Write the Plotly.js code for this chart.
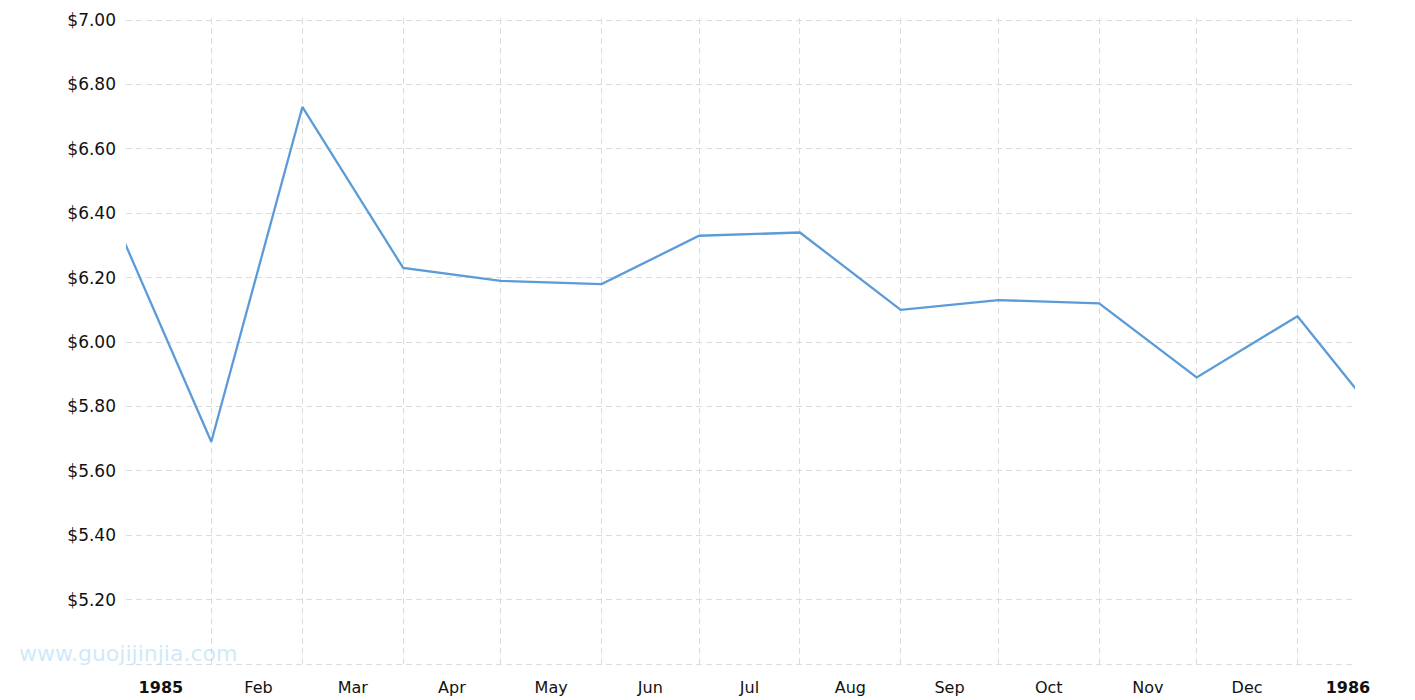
<!DOCTYPE html>
<html>
<head>
<meta charset="utf-8">
<script src="https://cdn.plot.ly/plotly-3.0.1.min.js"></script>
<style>
  html, body { margin: 0; padding: 0; background: #fff; }
  #chart { width: 1415px; height: 700px; }
</style>
</head>
<body>
<div id="chart"></div>
<script>
// Monthly price data
const dates = ['1985-01-01','1985-02-01','1985-03-01','1985-04-01','1985-05-01','1985-06-01',
               '1985-07-01','1985-08-01','1985-09-01','1985-10-01','1985-11-01','1985-12-01',
               '1986-01-01','1986-02-01'];
const prices = [6.41, 5.69, 6.73, 6.23, 6.19, 6.18, 6.33, 6.34, 6.10, 6.13, 6.12, 5.89, 6.08, 5.69];

// X tick labels (placed mid-month)
const xTickVals = ['1985-01-16 12:00','1985-02-15 12:00','1985-03-16 12:00','1985-04-16 00:00',
                   '1985-05-16 12:00','1985-06-16 00:00','1985-07-16 12:00','1985-08-16 12:00',
                   '1985-09-16 00:00','1985-10-16 12:00','1985-11-16 00:00','1985-12-16 12:00',
                   '1986-01-16 12:00'];
const xTickText = ['<b>1985</b>','Feb','Mar','Apr','May','Jun','Jul','Aug','Sep','Oct','Nov','Dec','<b>1986</b>'];

// Y ticks
const yTickVals = [5.0, 5.2, 5.4, 5.6, 5.8, 6.0, 6.2, 6.4, 6.6, 6.8, 7.0];
const yTickText = yTickVals.map(v => v === 5.0 ? '' : '$' + v.toFixed(2));

const watermark = 'www.guojijinjia.com';

const trace = {
  x: dates,
  y: prices,
  type: 'scatter',
  mode: 'lines',
  line: { color: '#5b9bd8', width: 2.3 },
  hoverinfo: 'x+y'
};

const gridDash = '6px,4px';

const layout = {
  width: 1415,
  height: 700,
  margin: { l: 126, r: 60, t: 18, b: 34 },
  paper_bgcolor: '#ffffff',
  plot_bgcolor: '#ffffff',
  showlegend: false,
  font: { family: 'DejaVu Sans, Verdana, sans-serif', color: '#111' },
  xaxis: {
    type: 'date',
    range: ['1985-01-05 18:30', '1986-01-18 16:20'],
    tickmode: 'array',
    tickvals: xTickVals,
    ticktext: xTickText,
    showgrid: false,
    zeroline: false,
    showline: false,
    ticks: '',
    tickfont: { size: 16, color: '#111' },
    ticklabelstandoff: 10,
    minor: {
      dtick: 'M1',
      tick0: '1985-01-01',
      showgrid: true,
      gridcolor: '#dcdcdc',
      griddash: gridDash,
      gridwidth: 1,
      ticks: ''
    },
    fixedrange: true
  },
  yaxis: {
    range: [4.9938, 7.0062],
    tickmode: 'array',
    tickvals: yTickVals,
    ticktext: yTickText,
    showgrid: true,
    gridcolor: '#dcdcdc',
    griddash: gridDash,
    gridwidth: 1,
    zeroline: false,
    showline: false,
    ticks: '',
    tickfont: { size: 17, color: '#111' },
    ticklabelstandoff: 9,
    fixedrange: true
  },
  annotations: [{
    text: watermark,
    xref: 'paper', yref: 'paper',
    x: -109 / 1229, y: 13 / 648,
    xanchor: 'left', yanchor: 'middle',
    showarrow: false,
    font: { family: 'DejaVu Sans, sans-serif', size: 22, color: 'rgba(160,212,248,0.5)' }
  }]
};

Plotly.newPlot('chart', [trace], layout, { displayModeBar: false, staticPlot: true });
</script>
</body>
</html>
